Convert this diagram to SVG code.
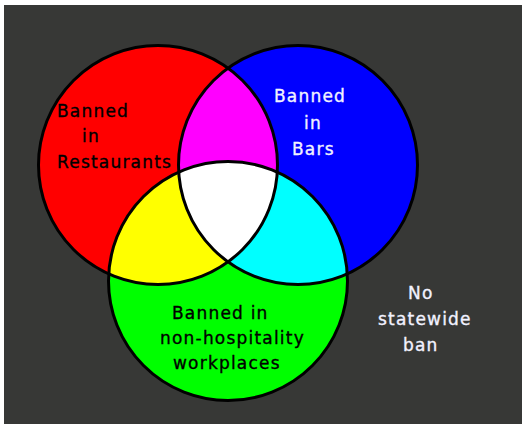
<svg xmlns="http://www.w3.org/2000/svg" width="522" height="424" viewBox="0 0 522 424">
<style>
.lbl{font-family:"DejaVu Sans","Liberation Sans",sans-serif;font-size:17px;letter-spacing:1.2px;stroke-width:0.35px}
.dark{fill:#000;stroke:#000}
.light{fill:#f2f2ff;stroke:#f2f2ff}
.ring{fill:none;stroke:#000;stroke-width:3}
</style>
<defs>
<clipPath id="cR"><circle cx="158" cy="165" r="119.5"/></clipPath>
<clipPath id="cB"><circle cx="298" cy="165" r="119.5"/></clipPath>
<clipPath id="cG"><circle cx="228" cy="281" r="119.5"/></clipPath>
</defs>
<rect x="0" y="0" width="522" height="424" fill="#ffffff"/>
<rect x="4" y="5" width="518" height="419" fill="#373836"/>
<g id="restaurants">
<circle cx="158" cy="165" r="119.5" fill="#ff0000"/>
</g>
<g id="bars">
<circle cx="298" cy="165" r="119.5" fill="#0000ff"/>
</g>
<g id="workplaces">
<circle cx="228" cy="281" r="119.5" fill="#00ff00"/>
</g>
<g id="overlaps">
<g clip-path="url(#cR)"><circle cx="298" cy="165" r="119.5" fill="#ff00ff"/></g>
<g clip-path="url(#cR)"><circle cx="228" cy="281" r="119.5" fill="#ffff00"/></g>
<g clip-path="url(#cB)"><circle cx="228" cy="281" r="119.5" fill="#00ffff"/></g>
<g clip-path="url(#cB)"><g clip-path="url(#cR)"><circle cx="228" cy="281" r="119.5" fill="#ffffff"/></g></g>
</g>
<g id="outlines">
<circle class="ring" cx="158" cy="165" r="119.5"/>
<circle class="ring" cx="298" cy="165" r="119.5"/>
<circle class="ring" cx="228" cy="281" r="119.5"/>
</g>
<g id="labels">
<text class="lbl dark" x="57" y="117">Banned</text>
<text class="lbl dark" x="82" y="142">in</text>
<text class="lbl dark" x="57" y="168">Restaurants</text>
<text class="lbl light" x="274" y="102">Banned</text>
<text class="lbl light" x="304" y="129">in</text>
<text class="lbl light" x="292" y="155">Bars</text>
<text class="lbl dark" x="172" y="319">Banned in</text>
<text class="lbl dark" x="160" y="344">non-hospitality</text>
<text class="lbl dark" x="173" y="369">workplaces</text>
<text class="lbl light" x="408" y="299">No</text>
<text class="lbl light" x="378" y="325">statewide</text>
<text class="lbl light" x="403" y="351">ban</text>
</g>
</svg>
